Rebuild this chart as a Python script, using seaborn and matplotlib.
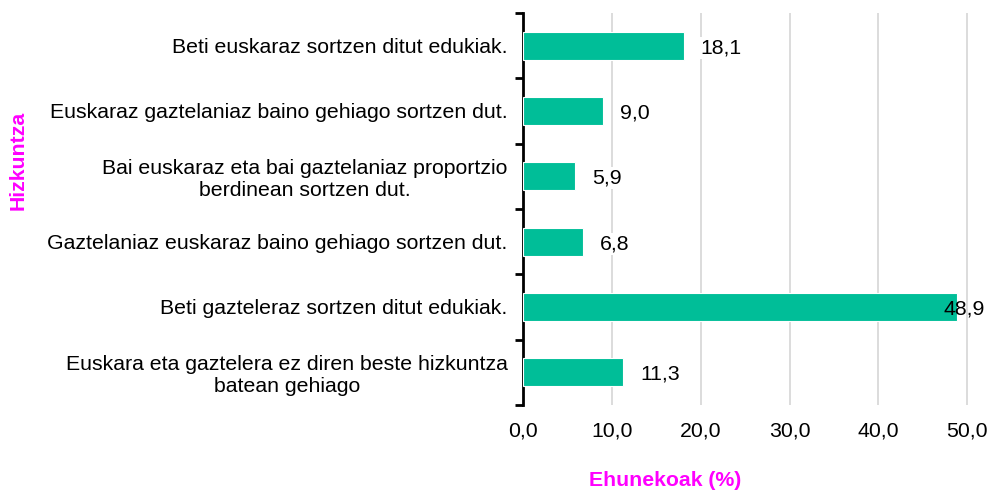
import numpy as np
import pandas as pd
import matplotlib.pyplot as plt
import seaborn as sns

categories = [
    "Beti euskaraz sortzen ditut edukiak.",
    "Euskaraz gaztelaniaz baino gehiago sortzen dut.",
    "Bai euskaraz eta bai gaztelaniaz proportzio\nberdinean sortzen dut.",
    "Gaztelaniaz euskaraz baino gehiago sortzen dut.",
    "Beti gazteleraz sortzen ditut edukiak.",
    "Euskara eta gaztelera ez diren beste hizkuntza\nbatean gehiago",
]
values = [18.1, 9.0, 5.9, 6.8, 48.9, 11.3]
xticks = [0, 10, 20, 30, 40, 50]

df = pd.DataFrame({"cat": categories, "val": values})

sns.set_style("white")
plt.rcParams["font.family"] = ["Liberation Sans", "DejaVu Sans"]
plt.rcParams["text.color"] = "black"
plt.rcParams["xtick.color"] = "black"
plt.rcParams["ytick.color"] = "black"

FS = 15.3

fig = plt.figure(figsize=(9.97, 4.93), dpi=100)
ax = fig.add_axes([523 / 997, 1 - 405 / 493, (985 - 523) / 997, (405 - 13) / 493])

sns.barplot(data=df, x="val", y="cat", color="#00BE98", saturation=1, width=0.43,
            edgecolor="white", linewidth=0.8, ax=ax, zorder=3)

xmax = 52
ax.set_xlim(0, xmax)
ax.set_ylim(len(categories) - 0.5, -0.5)

# gridlines
ax.set_xticks(xticks)
ax.set_xticklabels([f"{t:.1f}".replace(".", ",") for t in xticks], fontsize=FS)
ax.grid(axis="x", color="#D9D9D9", linewidth=1.3, zorder=0)
ax.tick_params(axis="x", length=0, pad=12)

# y axis: labels at categories, ticks at boundaries
ax.set_yticks(range(len(categories)))
ax.set_yticklabels(categories, fontsize=FS, multialignment="center")
ax.set_yticks(np.arange(-0.5, len(categories)), minor=True)
ax.tick_params(axis="y", which="major", left=False, length=0, pad=11)
ax.tick_params(axis="y", which="minor", left=True, length=6, width=2,
               color="black", direction="out")

for s in ["top", "right", "bottom"]:
    ax.spines[s].set_visible(False)
ax.spines["left"].set_linewidth(2)
ax.spines["left"].set_color("black")

# value labels
for i, v in enumerate(values):
    txt = f"{v:.1f}".replace(".", ",")
    if v + 8 > xmax:
        ax.text(xmax, i + 0.03, txt, ha="right", va="center", fontsize=FS, zorder=4)
    else:
        ax.text(v + 1.9, i + 0.03, txt, ha="left", va="center", fontsize=FS, zorder=4,
                bbox=dict(facecolor="white", edgecolor="none", pad=1))

ax.set_xlabel("Ehunekoak (%)", fontsize=FS, fontweight="bold", color="#FF00FF")
ax.set_ylabel("Hizkuntza", fontsize=FS, fontweight="bold", color="#FF00FF")
ax.xaxis.label.set_va("center")
ax.yaxis.label.set_va("center")
ax.xaxis.set_label_coords((665 - 523) / 462, -(480 - 405) / 392)
ax.yaxis.set_label_coords(-(523 - 18) / 462, (405 - 160) / 392)

fig.savefig("out.png", dpi=100)
